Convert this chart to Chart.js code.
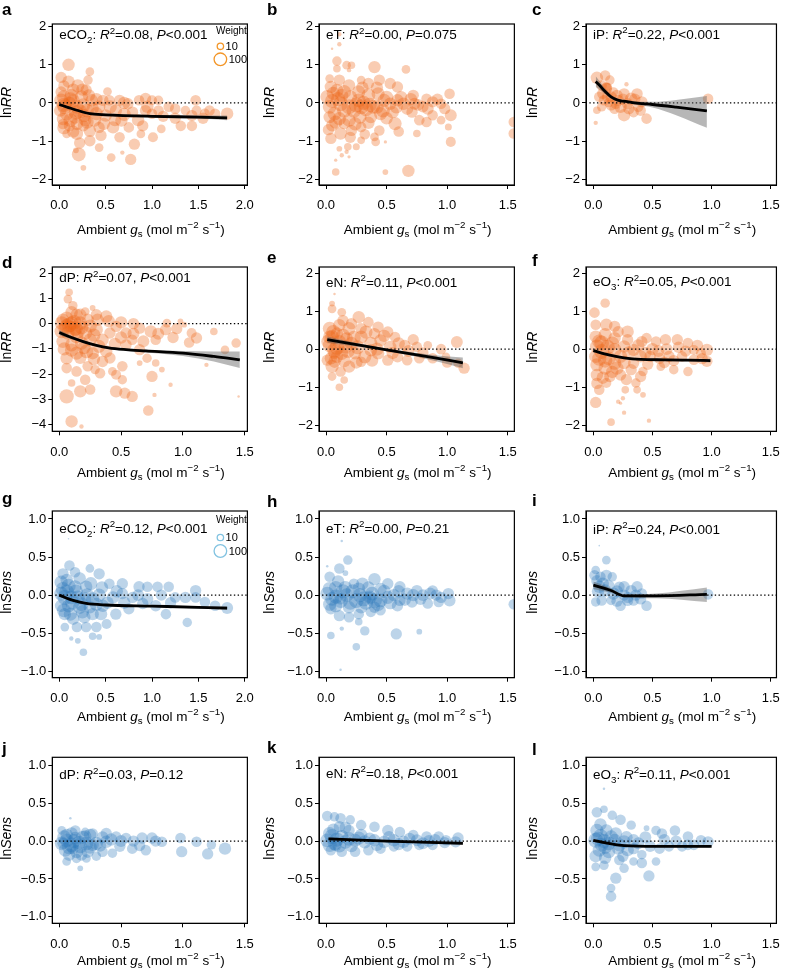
<!DOCTYPE html>
<html>
<head>
<meta charset="utf-8">
<script src="https://cdn.jsdelivr.net/npm/chart.js@4.4.1/dist/chart.umd.min.js"></script>
<style>
  html, body { margin: 0; padding: 0; background: #fff; }
  #fig { position: relative; width: 789px; height: 974px; overflow: hidden; }
  #fig canvas { position: absolute; }
</style>
</head>
<body>
<div id="fig"></div>
<script>
// ---- data: treatments and statistics ----
const treatments = ['eCO2', 'eT', 'iP', 'dP', 'eN', 'eO3'];
const r2RR = ['0.08', '0.00', '0.22', '0.07', '0.11', '0.05'];
const pRR = ['<0.001', '=0.075', '<0.001', '<0.001', '<0.001', '<0.001'];
const r2Sens = ['0.12', '0.00', '0.24', '0.03', '0.18', '0.11'];
const pSens = ['<0.001', '=0.21', '<0.001', '=0.12', '<0.001', '<0.001'];
const legendWeights = [10, 100];

// tick labels
const xTicks20 = [0, 0.5, 1.0, 1.5, 2.0];
const xTicks15 = [0, 0.5, 1.0, 1.5];
const yTicksRR = [-2, -1, 0, 1, 2];
const yTicksRRdP = [-4, -3, -2, -1, 0, 1, 2];
const yTicksSens = [-1, -0.5, 0, 0.5, 1];

// points: [gs, effect, weight]
const ptsA = [[0.10,1.0,60],[0.02,0.67,40],[0.33,0.82,15],[0.31,0.6,20],[0.1,0.56,60],[0.2,0.45,80],[0.25,0.35,60],[0.52,0.3,15],[0.54,0.07,30],[0.65,0.07,40],[0.74,-0.02,40],[0.86,0.07,30],[0.93,0.12,40],[1.0,0.07,25],[1.07,0.07,20],[1.18,-0.1,30],[1.25,-0.15,30],[1.36,-0.2,20],[1.47,0.07,30],[1.43,-0.33,40],[1.48,-0.2,25],[1.57,-0.28,25],[1.68,-0.28,30],[1.81,-0.28,60],[1.31,-0.6,30],[1.43,-0.6,30],[1.1,-0.68,15],[1.01,-0.9,25],[0.81,-1.08,40],[0.88,-0.81,15],[0.77,-1.48,40],[0.56,-1.43,15],[0.21,-1.35,100],[0.26,-1.7,5],[0.68,-1.3,3],[0.18,-1.24,5],[0.43,-1.17,15],[0.33,-0.99,40],[0.19,-0.81,60],[0.08,-0.81,15],[0.04,-0.55,30],[0.33,-0.73,60],[0.43,-0.64,40],[0.58,-0.64,60],[0.67,-0.46,60],[0.75,-0.64,30],[0.5,-0.33,60],[0.4,-0.28,80],
  [0.02,0.07,100],[0.06,-0.1,150],[0.11,-0.02,100],[0.19,-0.1,100],[0.26,-0.06,100],[0.08,-0.28,100],[0.17,-0.37,80],[0.27,-0.33,80],[0.01,-0.2,60],[0.04,-0.42,60],[0.13,0.2,80],[0.24,0.16,80],[0.35,0.07,60],[0.36,-0.15,60],[0.43,-0.1,60],[0.02,0.29,40],[0.29,0.34,40],[0.19,-0.55,60],[0.11,-0.6,40],[0.26,-0.6,40],[0.47,0.07,40],[0.61,-0.2,60],[0.79,-0.24,40],[0.93,-0.2,40],[1.0,-0.28,30],[1.07,-0.2,30],
  [0.05,0.15,100],[0.15,0.05,100],[0.3,-0.2,100],[0.38,-0.45,80],[0.05,-0.65,80],[0.15,-0.75,60],[0.3,-0.5,80],[0.22,-0.22,120],[0.12,-0.45,100],[0.55,-0.1,80],[0.7,-0.3,80],[0.85,-0.45,60],[0.95,-0.1,60],[0.6,-0.45,60],[0.48,-0.55,60],[0.4,0.1,60],[0.32,0.2,60],[0.15,0.35,60],[0.05,-0.05,120],[0.18,-0.25,120],[0.28,-0.45,60],[0.12,0.1,100],[0.7,0.0,60],[1.12,-0.35,40],[1.25,-0.4,40],[1.55,-0.4,40],[1.62,-0.2,30],[0.9,-0.6,40],[0.05,0.45,40],[0.45,-0.85,40],[0.22,-1.05,40],[0.65,-0.9,30]];
const ptsB = [[0.11,1.8,3],[0.11,1.54,3],[0.05,1.42,1.5],[0.09,1.1,20],[0.17,0.99,15],[0.21,0.99,10],[0.09,0.9,10],[0.4,0.94,60],[0.66,0.88,15],[0.19,0.86,3],[0.03,0.64,15],[0.11,0.6,40],[0.29,0.6,15],[0.44,0.6,40],[0.53,0.51,40],[0.59,0.42,40],[0.72,0.2,40],[0.83,0.11,30],[1.02,0.24,30],[0.95,-0.02,30],[1.03,-0.32,50],[0.88,-0.32,30],[0.95,-0.45,15],[1.01,-0.63,8],[0.83,-0.5,30],[0.77,-0.45,30],[0.71,-0.24,40],[0.57,-0.54,80],[0.75,-0.8,10],[0.44,-0.72,30],[0.4,-0.89,15],[0.41,-1.02,15],[0.29,-0.98,10],[0.25,-1.15,8],[0.18,-1.15,10],[0.11,-1.2,5],[0.13,-1.37,3],[0.17,-1.28,3],[0.04,-0.93,40],[0.12,-0.8,60],[0.21,-0.72,40],[0.05,-0.59,50],[0.15,-0.54,40],[0.29,-0.63,30],[0.08,-1.5,2],[0.19,-1.41,2],[0.08,-1.81,10],[0.49,-1.81,5],[0.68,-1.78,60],[1.03,-1.02,25],[1.55,-0.5,30],[1.55,-0.8,30],[0.49,-1.02,2],
  [0.01,0.16,100],[0.03,-0.1,100],[0.07,-0.28,100],[0.12,-0.02,150],[0.15,0.29,100],[0.19,-0.1,150],[0.23,-0.19,150],[0.27,0.07,100],[0.29,-0.1,150],[0.33,-0.15,150],[0.39,-0.1,100],[0.27,0.29,80],[0.35,0.2,100],[0.43,0.24,80],[0.48,0.07,80],[0.53,-0.02,60],[0.59,0.07,60],[0.64,-0.02,60],[0.55,-0.24,60],[0.45,-0.28,80],[0.37,-0.37,60],[0.28,-0.37,80],[0.19,-0.45,80],[0.11,-0.41,80],[0.03,-0.37,60],[0.09,0.33,80],[0.04,0.42,60],[0.19,0.46,60],[0.35,0.51,40],[0.73,-0.02,50],[0.8,-0.1,40],[0.88,0.03,40],
  [0.05,0.05,120],[0.1,0.1,120],[0.15,-0.2,120],[0.25,-0.05,150],[0.31,0.0,120],[0.36,-0.05,120],[0.42,-0.1,100],[0.47,-0.2,100],[0.5,0.15,80],[0.58,-0.1,80],[0.62,0.15,60],[0.67,-0.15,60],[0.2,0.15,100],[0.08,-0.5,80],[0.24,-0.55,80],[0.35,-0.52,60],[0.5,-0.4,60],[0.13,0.2,80],[0.3,0.4,60],[0.42,0.4,60],[0.06,0.25,80],[0.7,0.1,60],[0.76,-0.05,50],[0.84,-0.15,50],[0.92,0.1,40],[0.98,-0.15,40],[0.02,-0.7,40],[0.2,-0.9,40],[0.32,-0.82,30],[0.6,-0.75,30]];
const ptsC = [[0.03,0.66,60],[0.1,0.72,30],[0.07,0.46,30],[0.11,0.38,40],[0.11,0.42,20],[0.12,0.4,20],[0.14,0.6,20],[0.05,0.16,30],[0.09,0.07,30],[0.15,0.16,40],[0.17,0.29,20],[0.21,0.07,40],[0.26,0.24,40],[0.32,0.11,60],[0.37,0.24,40],[0.41,0.03,40],[0.23,-0.1,60],[0.18,-0.15,30],[0.07,-0.1,20],[0.03,-0.19,10],[0.26,-0.32,60],[0.34,-0.24,30],[0.45,-0.41,30],[0.02,-0.52,3],[0.28,0.49,3],[0.13,0.01,20],[0.97,0.11,30],[0.29,-0.02,40],[0.38,-0.1,30],[0.19,-0.02,30],
  [0.08,0.25,40],[0.12,0.15,40],[0.2,0.2,40],[0.3,-0.15,40],[0.4,-0.2,30],[0.15,-0.05,40],[0.25,0.1,40],[0.35,0.1,40]];
const ptsD = [[0.08,1.24,10],[0.07,0.97,15],[0.11,0.71,20],[0.17,0.35,60],[0.21,0.48,15],[0.27,0.62,5],[0.38,0.28,60],[0.31,0.15,60],[0.03,0.15,60],[0.46,-0.11,40],[0.65,-0.18,40],[0.74,-0.31,60],[0.86,-0.24,40],[0.87,0.02,15],[0.78,-0.64,30],[0.98,0.09,5],[1.07,-0.37,25],[1.11,-0.57,40],[1.01,-0.04,5],[1.25,-0.31,10],[1.43,-0.77,20],[1.34,-1.04,15],[1.19,-1.63,3],[1.45,-2.88,1.5],[0.54,-0.84,40],[0.65,-1.03,40],[0.71,-1.37,20],[0.78,-1.56,10],[0.83,-1.82,5],[0.75,-2.09,40],[0.9,-2.42,3],[0.77,-2.82,3],[0.72,-3.44,30],[0.59,-2.88,40],[0.53,-2.75,40],[0.46,-2.68,60],[0.51,-2.22,20],[0.46,-2.02,25],[0.51,-1.69,30],[0.41,-1.36,40],[0.43,-1.89,15],[0.65,-1.56,5],[0.29,-1.82,20],[0.21,-2.22,30],[0.17,-2.68,60],[0.25,-2.61,30],[0.06,-2.88,120],[0.1,-3.87,60],[0.18,-4.07,3],[0.1,-2.35,10],[0.06,-1.76,30],[0.14,-1.89,30],[0.23,-1.69,30],[0.33,-1.96,30],[0.35,-1.5,40],
  [0.02,0.02,100],[0.06,-0.11,150],[0.1,0.02,100],[0.13,-0.18,150],[0.17,0.02,100],[0.07,-0.37,100],[0.14,-0.5,100],[0.21,-0.37,100],[0.03,-0.7,80],[0.1,-0.84,80],[0.18,-0.77,80],[0.25,-0.64,80],[0.3,-0.24,80],[0.22,-1.1,100],[0.14,-1.17,80],[0.06,-1.37,60],[0.27,-1.17,60],[0.35,-0.64,60],[0.41,-0.37,40],[0.54,-0.37,40],[0.59,-0.64,30],[0.06,0.22,80],[0.14,0.35,60],[0.23,0.15,60],[0.09,-0.11,40],[0.13,-0.27,40],
  [0.02,-0.3,120],[0.05,-0.2,120],[0.08,-0.05,150],[0.12,0.05,150],[0.15,-0.3,120],[0.18,-0.15,100],[0.25,-0.1,80],[0.28,-0.45,80],[0.32,-0.9,80],[0.2,-0.95,80],[0.04,-1.0,80],[0.1,-1.05,80],[0.17,-1.35,60],[0.28,-1.4,60],[0.38,-1.1,60],[0.45,-0.8,60],[0.5,-0.55,60],[0.6,-0.4,50],[0.68,-0.7,50],[0.8,-0.4,50],[0.92,-0.55,40],[0.5,0.05,60],[0.4,0.1,60],[0.6,0.0,40],[0.95,-0.2,40],[1.05,-0.75,30],[0.3,0.35,40],[0.1,0.45,60]];
const ptsE = [[0.07,1.45,1.5],[0.05,1.2,5],[0.05,1.06,15],[0.13,0.97,15],[0.27,0.84,60],[0.35,0.71,30],[0.43,0.58,40],[0.51,0.45,40],[0.57,0.32,30],[0.65,0.1,40],[0.75,0.06,30],[0.84,0.1,15],[1.08,0.19,50],[1.14,-0.5,40],[1.09,-0.37,20],[0.99,-0.2,15],[0.88,-0.24,30],[0.77,-0.24,30],[0.67,-0.29,30],[0.59,-0.2,40],[0.51,-0.29,40],[0.43,-0.11,60],[0.19,-0.46,60],[0.12,-0.59,30],[0.05,-0.72,15],[0.11,-1.0,10],[0.15,-0.81,10],[0.29,-0.33,30],[0.04,-0.24,60],[0.07,-0.33,60],[0.07,-0.1,60],
  [0.03,0.54,100],[0.05,0.32,100],[0.11,0.19,100],[0.16,0.06,100],[0.03,0.1,100],[0.07,-0.03,150],[0.13,-0.11,80],[0.21,0.15,80],[0.29,0.32,80],[0.19,0.54,80],[0.11,0.63,60],[0.37,0.15,80],[0.45,0.23,60],[0.53,0.06,60],[0.37,-0.03,60],[0.24,-0.11,60],[0.03,0.32,80],[0.09,0.41,60],[0.17,0.28,60],[0.29,0.54,40],[0.4,0.41,40],[0.21,0.67,40],[0.01,-0.29,40],[0.09,-0.2,60],
  [0.02,0.2,120],[0.06,0.45,120],[0.09,0.05,150],[0.14,0.35,120],[0.18,-0.05,100],[0.23,0.3,100],[0.26,0.05,100],[0.33,0.45,80],[0.32,-0.2,80],[0.42,0.0,80],[0.48,0.35,60],[0.55,-0.1,60],[0.6,0.15,60],[0.68,-0.05,50],[0.72,0.25,40],[0.8,-0.1,40],[0.05,-0.45,80],[0.15,-0.3,80],[0.25,-0.35,60],[0.38,-0.3,60],[0.14,0.75,40],[0.95,0.0,30],[1.0,-0.35,30]];
const ptsF = [[0.1,1.21,20],[0.01,0.96,30],[0.02,0.64,30],[0.11,0.64,60],[0.18,0.6,40],[0.29,0.46,60],[0.21,0.46,40],[0.41,0.2,40],[0.45,0.29,30],[0.53,0.2,30],[0.61,0.25,40],[0.71,0.25,40],[0.8,0.16,30],[0.85,-0.02,25],[0.91,-0.11,25],[0.96,-0.32,40],[0.85,-0.28,30],[0.75,-0.19,30],[0.64,-0.19,40],[0.56,-0.24,40],[0.48,-0.19,40],[0.57,-0.46,15],[0.68,-0.54,20],[0.8,-0.59,20],[0.42,-0.59,20],[0.4,-0.72,40],[0.36,-0.89,20],[0.37,-1.07,10],[0.42,-1.2,5],[0.27,-1.07,10],[0.25,-1.29,3],[0.21,-1.38,3],[0.02,-1.4,40],[0.05,-1.07,30],[0.11,-0.89,25],[0.14,-0.72,40],[0.23,-0.68,40],[0.32,-0.54,40],[0.26,-1.67,3],[0.15,-1.92,10],[0.47,-1.88,3],[0.23,-1.42,2],
  [0.03,0.07,100],[0.07,0.16,150],[0.07,-0.06,150],[0.13,-0.24,100],[0.18,-0.02,100],[0.02,-0.19,80],[0.03,-0.41,80],[0.1,-0.5,80],[0.18,-0.37,80],[0.23,-0.19,80],[0.26,0.07,60],[0.34,-0.02,60],[0.4,-0.19,60],[0.03,-0.68,60],[0.02,0.33,60],[0.1,0.38,80],[0.18,0.29,60],[0.29,0.25,40],[0.34,-0.37,40],[0.96,-0.02,60],
  [0.05,0.2,120],[0.12,0.05,150],[0.05,-0.25,120],[0.1,-0.3,120],[0.16,0.15,100],[0.2,-0.5,80],[0.26,-0.35,80],[0.3,-0.1,80],[0.38,0.1,60],[0.44,-0.1,60],[0.5,0.0,60],[0.55,-0.05,50],[0.62,0.0,50],[0.68,-0.3,40],[0.72,0.05,40],[0.78,-0.05,40],[0.88,0.1,40],[0.92,-0.25,40],[0.08,-0.75,60],[0.16,-0.6,60],[0.03,-0.9,40],[0.28,-0.8,40],[0.46,-0.4,40],[0.6,-0.35,40]];
const ptsG = [[0.1,0.74,1],[0.11,0.39,30],[0.04,0.28,40],[0.17,0.3,30],[0.33,0.35,15],[0.43,0.28,40],[0.54,0.15,30],[0.68,0.15,40],[0.86,0.11,40],[0.95,0.11,30],[1.06,0.11,30],[1.18,0.11,30],[1.47,0.06,40],[1.47,-0.03,30],[1.36,-0.03,40],[1.25,-0.03,30],[1.57,-0.09,30],[1.68,-0.14,30],[1.81,-0.17,50],[1.38,-0.36,20],[1.15,-0.25,30],[1.04,-0.14,40],[0.9,-0.11,40],[0.75,-0.18,40],[0.61,-0.25,40],[0.51,-0.38,25],[0.4,-0.42,30],[0.29,-0.42,30],[0.19,-0.42,30],[0.06,-0.42,15],[0.36,-0.54,10],[0.43,-0.55,5],[0.2,-0.6,5],[0.13,-0.57,3],[0.26,-0.75,10],[0.06,-0.25,60],[0.15,-0.31,60],[0.27,-0.29,60],[0.36,-0.25,60],
  [0.02,0.02,100],[0.06,-0.03,150],[0.08,0.04,150],[0.13,-0.03,100],[0.2,-0.03,100],[0.27,-0.05,100],[0.36,-0.05,80],[0.43,0.0,80],[0.17,0.11,80],[0.29,0.11,60],[0.02,0.17,80],[0.1,-0.14,80],[0.22,-0.16,80],[0.33,-0.16,60],[0.47,-0.14,60],[0.58,-0.03,60],[0.68,0.02,40],[0.79,-0.03,40],[0.02,-0.14,60],
  [0.04,0.08,120],[0.1,0.12,120],[0.14,-0.1,120],[0.18,0.05,100],[0.24,-0.12,100],[0.3,0.0,100],[0.34,0.15,80],[0.4,-0.12,80],[0.46,0.1,60],[0.52,-0.1,60],[0.62,0.05,60],[0.7,-0.1,60],[0.85,0.0,50],[0.95,-0.05,50],[1.1,0.0,40],[1.2,-0.1,40],[0.05,-0.2,100],[0.12,-0.25,80],[0.25,-0.22,80],[0.45,-0.25,60],[0.08,0.2,60],[0.22,0.22,60]];
const ptsH = [[0.13,0.71,1.5],[0.01,0.38,1.5],[0.18,0.46,20],[0.11,0.35,30],[0.16,0.29,5],[0.03,0.24,30],[0.23,0.15,30],[0.4,0.21,60],[0.51,0.15,40],[0.61,0.11,40],[0.75,0.06,40],[0.88,0.06,30],[1.01,0.02,40],[1.02,-0.07,50],[0.93,-0.09,30],[0.84,-0.11,30],[0.71,-0.09,40],[0.61,-0.07,40],[1.55,-0.12,30],[0.04,-0.53,10],[0.13,-0.44,3],[0.32,-0.47,20],[0.58,-0.51,40],[0.77,-0.48,5],[0.25,-0.68,10],[0.12,-0.98,1.5],[0.27,-0.35,10],[0.04,-0.18,40],[0.11,-0.27,40],[0.19,-0.29,30],[0.27,-0.25,30],[0.37,-0.22,30],[0.45,-0.2,30],
  [0.01,0.02,100],[0.05,-0.05,100],[0.12,-0.07,150],[0.17,0.0,100],[0.25,-0.07,150],[0.31,-0.05,150],[0.36,-0.03,100],[0.4,-0.07,150],[0.45,-0.07,100],[0.51,-0.03,80],[0.56,0.0,60],[0.08,0.1,80],[0.16,0.1,80],[0.27,0.08,80],[0.35,0.1,60],[0.45,0.08,60],[0.67,0.02,60],[0.8,0.0,50],[0.91,0.0,40],[0.08,-0.14,80],[0.19,-0.16,60],[0.29,-0.16,60],[0.4,-0.16,40],[0.59,-0.14,40],[0.12,-0.05,40],[0.36,-0.03,40],
  [0.03,0.08,120],[0.08,-0.02,120],[0.14,0.05,120],[0.2,-0.1,120],[0.22,0.05,120],[0.28,0.0,120],[0.33,-0.1,120],[0.38,0.02,100],[0.43,-0.12,100],[0.48,0.05,80],[0.53,-0.1,80],[0.6,0.05,60],[0.65,-0.06,60],[0.72,0.0,60],[0.78,-0.05,50],[0.86,0.02,50],[0.95,-0.03,40],[0.03,-0.12,80],[0.1,0.18,60],[0.3,0.15,60]];
const ptsI = [[0.05,0.65,1],[0.11,0.46,15],[0.02,0.33,15],[0.01,0.26,30],[0.06,0.24,30],[0.11,0.26,40],[0.16,0.24,20],[0.22,0.11,30],[0.26,0.11,40],[0.37,0.11,40],[0.32,0.06,40],[0.41,0.02,30],[0.45,-0.14,30],[0.02,-0.09,20],[0.07,-0.07,30],[0.15,-0.07,20],[0.23,-0.14,30],[0.29,-0.07,40],[0.34,-0.07,30],[0.97,0.01,30],[0.05,0.11,60],[0.1,0.06,60],[0.17,0.02,60],[0.26,0.0,40],[0.29,-0.03,40],[0.03,0.19,40],
  [0.04,0.05,60],[0.08,0.15,60],[0.13,0.12,50],[0.2,0.05,50],[0.36,0.0,40],[0.4,-0.05,40],[0.2,-0.08,40]];
const ptsJ = [[0.09,0.3,1.5],[0.02,0.14,15],[0.13,0.14,30],[0.21,0.12,15],[0.27,0.1,30],[0.38,0.1,40],[0.46,0.06,30],[0.54,0.04,30],[0.67,0.04,40],[0.75,0.04,40],[0.83,-0.01,30],[0.98,0.04,30],[1.11,-0.01,30],[1.23,-0.05,20],[0.99,-0.14,40],[1.2,-0.17,40],[1.34,-0.1,60],[0.7,-0.12,30],[0.59,-0.1,30],[0.49,-0.07,40],[0.43,-0.16,20],[0.35,-0.14,30],[0.3,-0.2,20],[0.22,-0.23,15],[0.14,-0.23,20],[0.06,-0.27,15],[0.17,-0.36,5],
  [0.02,-0.03,100],[0.06,0.01,100],[0.1,-0.05,150],[0.13,0.04,60],[0.17,-0.07,100],[0.22,-0.03,100],[0.3,-0.03,80],[0.27,-0.05,60],[0.38,-0.01,60],[0.05,-0.12,80],[0.14,-0.14,80],[0.23,-0.14,60],[0.06,0.08,60],[0.21,0.06,60],[0.03,-0.03,40],[0.11,-0.1,40],
  [0.04,0.05,100],[0.08,-0.08,120],[0.12,0.0,120],[0.16,-0.02,100],[0.19,0.05,80],[0.25,-0.08,80],[0.33,-0.06,60],[0.42,0.02,60],[0.5,0.0,50],[0.6,0.0,40],[0.65,-0.06,40],[0.78,0.0,40],[0.1,0.1,60],[0.25,0.08,60],[0.35,0.05,50],[0.08,-0.18,60],[0.18,-0.18,50]];
const ptsK = [[0.01,0.33,30],[0.07,0.32,20],[0.12,0.3,30],[0.2,0.28,20],[0.29,0.21,30],[0.4,0.19,30],[0.51,0.14,40],[0.61,0.12,30],[0.72,0.08,30],[0.83,0.06,30],[0.93,0.06,30],[1.09,0.04,40],[0.99,0.01,30],[0.88,-0.05,30],[0.77,-0.05,30],[0.67,-0.07,30],[0.56,-0.07,30],[0.45,-0.1,30],[0.35,-0.12,30],[0.24,-0.14,30],[0.13,-0.14,30],[0.04,-0.12,30],[0.19,0.14,40],[0.11,0.19,40],
  [0.01,0.01,100],[0.05,0.06,150],[0.07,-0.03,100],[0.16,-0.01,100],[0.13,0.06,80],[0.24,0.01,80],[0.32,-0.01,80],[0.4,0.01,60],[0.48,-0.01,60],[0.56,0.01,60],[0.64,-0.01,60],[0.75,0.01,50],[0.85,0.0,50],[1.07,-0.01,40],[0.03,0.1,80],[0.08,-0.05,60],[0.29,0.08,60],
  [0.03,-0.05,120],[0.09,0.02,120],[0.11,-0.06,100],[0.19,0.03,100],[0.21,-0.06,80],[0.27,0.04,80],[0.36,0.03,60],[0.42,-0.05,60],[0.52,0.05,60],[0.6,-0.04,60],[0.69,0.03,50],[0.8,-0.03,50],[0.9,0.02,40],[0.98,-0.02,40],[0.06,0.15,60],[0.16,0.18,50]];
const ptsL = [[0.09,0.69,1.5],[0.03,0.38,30],[0.09,0.42,10],[0.16,0.34,20],[0.23,0.28,30],[0.32,0.21,20],[0.45,0.17,5],[0.53,0.14,20],[0.69,0.14,30],[0.58,0.1,30],[0.8,0.06,30],[0.91,0.01,30],[0.97,-0.01,40],[0.85,-0.05,30],[0.75,-0.07,30],[0.64,-0.07,30],[0.56,-0.1,30],[0.48,-0.07,40],[0.41,-0.18,20],[0.41,-0.29,30],[0.53,-0.27,15],[0.34,-0.27,15],[0.47,-0.46,40],[0.26,-0.36,20],[0.19,-0.49,40],[0.15,-0.62,15],[0.15,-0.73,30],[0.02,-0.34,15],[0.09,-0.32,20],[0.22,-0.25,30],
  [0.02,0.01,150],[0.06,0.06,150],[0.07,-0.05,100],[0.13,-0.03,100],[0.18,0.01,80],[0.26,-0.01,80],[0.34,0.01,60],[0.05,-0.12,80],[0.13,-0.14,80],[0.21,-0.1,60],[0.03,0.14,80],[0.11,0.14,60],[0.19,0.1,60],[0.29,-0.12,60],[0.34,-0.1,40],
  [0.04,0.03,120],[0.09,0.0,120],[0.1,-0.08,100],[0.15,0.05,100],[0.22,-0.05,80],[0.28,0.05,60],[0.38,-0.03,50],[0.44,0.05,50],[0.6,0.02,40],[0.7,0.0,40],[0.8,-0.05,30],[0.02,-0.2,60],[0.1,-0.22,60],[0.25,-0.2,40],[0.06,0.22,60]];

// fitted curves and confidence limits: [gs, value]
const fitA = [[0,-0.04],[0.1,-0.12],[0.19,-0.19],[0.33,-0.28],[0.5,-0.31],[1.0,-0.35],[1.5,-0.37],[1.81,-0.39]];
const hiA = [[0,0.0],[0.1,-0.09],[0.19,-0.16],[0.33,-0.25],[0.5,-0.29],[1.0,-0.32],[1.5,-0.33],[1.81,-0.33]];
const loA = [[0,-0.08],[0.1,-0.15],[0.19,-0.22],[0.33,-0.31],[0.5,-0.34],[1.0,-0.38],[1.5,-0.41],[1.81,-0.45]];
const fitC = [[0.02,0.56],[0.05,0.47],[0.1,0.3],[0.15,0.16],[0.2,0.08],[0.25,0.05],[0.35,0.0],[0.5,-0.04],[0.7,-0.11],[0.96,-0.21]];
const hiC = [[0.02,0.7],[0.05,0.58],[0.1,0.37],[0.15,0.21],[0.2,0.12],[0.25,0.08],[0.35,0.04],[0.5,0.03],[0.7,0.08],[0.96,0.18]];
const loC = [[0.02,0.42],[0.05,0.36],[0.1,0.23],[0.15,0.11],[0.2,0.04],[0.25,0.01],[0.35,-0.04],[0.5,-0.12],[0.7,-0.32],[0.96,-0.65]];
const fitD = [[0,-0.35],[0.1,-0.55],[0.2,-0.72],[0.3,-0.86],[0.4,-0.96],[0.54,-1.03],[0.7,-1.08],[1.0,-1.17],[1.25,-1.3],[1.46,-1.43]];
const hiD = [[0,-0.25],[0.1,-0.48],[0.2,-0.67],[0.3,-0.82],[0.4,-0.92],[0.54,-0.99],[0.7,-1.03],[1.0,-1.08],[1.25,-1.1],[1.46,-1.1]];
const loD = [[0,-0.45],[0.1,-0.62],[0.2,-0.77],[0.3,-0.9],[0.4,-1.0],[0.54,-1.07],[0.7,-1.14],[1.0,-1.28],[1.25,-1.5],[1.46,-1.76]];
const fitE = [[0.01,0.25],[0.3,0.09],[0.6,-0.07],[0.9,-0.23],[1.13,-0.36]];
const hiE = [[0.01,0.33],[0.3,0.13],[0.6,-0.03],[0.9,-0.16],[1.13,-0.22]];
const loE = [[0.01,0.17],[0.3,0.05],[0.6,-0.11],[0.9,-0.31],[1.13,-0.5]];
const fitF = [[0,-0.04],[0.13,-0.15],[0.26,-0.23],[0.4,-0.27],[0.6,-0.28],[0.8,-0.29],[0.99,-0.3]];
const hiF = [[0,0.0],[0.13,-0.12],[0.26,-0.2],[0.4,-0.245],[0.6,-0.255],[0.8,-0.26],[0.99,-0.25]];
const loF = [[0,-0.08],[0.13,-0.18],[0.26,-0.26],[0.4,-0.295],[0.6,-0.305],[0.8,-0.32],[0.99,-0.35]];
const fitG = [[0,0],[0.15,-0.07],[0.29,-0.11],[0.5,-0.13],[1.0,-0.145],[1.5,-0.16],[1.81,-0.17]];
const hiG = [[0,0.02],[0.15,-0.055],[0.29,-0.1],[0.5,-0.12],[1.0,-0.135],[1.5,-0.145],[1.81,-0.145]];
const loG = [[0,-0.02],[0.15,-0.085],[0.29,-0.12],[0.5,-0.14],[1.0,-0.155],[1.5,-0.175],[1.81,-0.195]];
const fitI = [[0,0.13],[0.15,0.06],[0.26,-0.01],[0.53,-0.01],[0.96,0.01]];
const hiI = [[0,0.18],[0.15,0.09],[0.26,0.01],[0.53,0.02],[0.96,0.1]];
const loI = [[0,0.08],[0.15,0.03],[0.26,-0.03],[0.53,-0.04],[0.96,-0.09]];
const fitK = [[0.02,0.03],[0.5,0.0],[1.13,-0.03]];
const hiK = [[0.02,0.05],[0.5,0.01],[1.13,-0.01]];
const loK = [[0.02,0.01],[0.5,-0.01],[1.13,-0.05]];
const fitL = [[0,0.01],[0.13,-0.03],[0.26,-0.06],[0.53,-0.07],[1.0,-0.07]];
const hiL = [[0,0.03],[0.13,-0.015],[0.26,-0.05],[0.53,-0.06],[1.0,-0.055]];
const loL = [[0,-0.01],[0.13,-0.045],[0.26,-0.07],[0.53,-0.08],[1.0,-0.085]];

// ---- style and layout ----
const FONT = "'Liberation Sans', Arial, Helvetica, sans-serif";
const W = 263, H = 243;
const rowTop = [0, 243, 487, 731];
const boxTop = [24, 24, 24, 26.3];
const boxBottom = [185, 188.3, 190.7, 192.3];
const colLeft = [52.3, 56, 60];
const colRight = [249.3, 257.7, 259.3];
const fills = ['rgba(236,100,20,0.33)', 'rgba(40,115,185,0.31)'];
const legendStroke = ['rgb(243,150,40)', 'rgb(130,195,225)'];

// x range per column so that ticks sit where the figure has them
const xRange20 = [-0.075, 2.028];
const xRangeCol = [[-0.056, 1.521], [-0.058, 1.555], [-0.062, 1.548]];

const panels = [
  { id: 'a', row: 0, col: 0, pts: ptsA, fit: fitA, hi: hiA, lo: loA, xr: xRange20, xt: xTicks20, yr: [-2.15, 2.07], yt: yTicksRR, k: 0, letterY: 15, textDy: 15.3, legend: true },
  { id: 'b', row: 0, col: 1, pts: ptsB, xr: xRangeCol[1], xt: xTicks15, yr: [-2.15, 2.07], yt: yTicksRR, k: 1, letterY: 15, textDy: 15.3 },
  { id: 'c', row: 0, col: 2, pts: ptsC, fit: fitC, hi: hiC, lo: loC, xr: xRangeCol[2], xt: xTicks15, yr: [-2.15, 2.07], yt: yTicksRR, k: 2, letterY: 15, textDy: 15 },
  { id: 'd', row: 1, col: 0, pts: ptsD, fit: fitD, hi: hiD, lo: loD, xr: xRangeCol[0], xt: xTicks15, yr: [-4.26, 2.24], yt: yTicksRRdP, k: 3, letterY: 25, textDy: 15.3 },
  { id: 'e', row: 1, col: 1, pts: ptsE, fit: fitE, hi: hiE, lo: loE, xr: xRangeCol[1], xt: xTicks15, yr: [-2.16, 2.16], yt: yTicksRR, k: 4, letterY: 20, textDy: 20 },
  { id: 'f', row: 1, col: 2, pts: ptsF, fit: fitF, hi: hiF, lo: loF, xr: xRangeCol[2], xt: xTicks15, yr: [-2.16, 2.16], yt: yTicksRR, k: 5, letterY: 23, textDy: 19.3 },
  { id: 'g', row: 2, col: 0, pts: ptsG, fit: fitG, hi: hiG, lo: loG, xr: xRange20, xt: xTicks20, yr: [-1.085, 1.105], yt: yTicksSens, k: 0, letterY: 17, textDy: 22, legend: true },
  { id: 'h', row: 2, col: 1, pts: ptsH, xr: xRangeCol[1], xt: xTicks15, yr: [-1.085, 1.105], yt: yTicksSens, k: 1, letterY: 20, textDy: 21.7 },
  { id: 'i', row: 2, col: 2, pts: ptsI, fit: fitI, hi: hiI, lo: loI, xr: xRangeCol[2], xt: xTicks15, yr: [-1.085, 1.105], yt: yTicksSens, k: 2, letterY: 19, textDy: 22.7 },
  { id: 'j', row: 3, col: 0, pts: ptsJ, xr: xRangeCol[0], xt: xTicks15, yr: [-1.085, 1.105], yt: yTicksSens, k: 3, letterY: 23, textDy: 22 },
  { id: 'k', row: 3, col: 1, pts: ptsK, fit: fitK, hi: hiK, lo: loK, xr: xRangeCol[1], xt: xTicks15, yr: [-1.085, 1.105], yt: yTicksSens, k: 4, letterY: 22, textDy: 20.7 },
  { id: 'l', row: 3, col: 2, pts: ptsL, fit: fitL, hi: hiL, lo: loL, xr: xRangeCol[2], xt: xTicks15, yr: [-1.085, 1.105], yt: yTicksSens, k: 5, letterY: 24, textDy: 21.7 }
];

// bubble radius from meta-analysis weight
function weightToRadius(w) {
  return Math.max(0.8, 0.7 + 3.1 * Math.log10(w));
}

function fmtTick(v, digits) {
  const s = Math.abs(v).toFixed(digits);
  return v < 0 ? '\u2212' + s : s;
}

// treatment name with subscript digit (eCO2, eO3)
function treatmentSegs(name) {
  const m = name.match(/^(.*?)(\d)$/);
  return m ? [[m[1], 'n'], [m[2], 'sub']] : [[name, 'n']];
}

// draw a run of text pieces: 'n' normal, 'i' italic, 'sub', 'sup'
function drawRich(ctx, segs, x, y, size, align) {
  const parts = segs.map(([t, kind]) => {
    const small = kind === 'sub' || kind === 'sup';
    const font = (kind === 'i' ? 'italic ' : '') + (small ? size * 0.72 : size) + 'px ' + FONT;
    ctx.font = font;
    const dy = kind === 'sub' ? size * 0.28 : kind === 'sup' ? -size * 0.42 : 0;
    return { t, font, dy, w: ctx.measureText(t).width };
  });
  const total = parts.reduce((s, p) => s + p.w, 0);
  let cx = align === 'center' ? x - total / 2 : x;
  ctx.textAlign = 'left';
  ctx.textBaseline = 'alphabetic';
  ctx.fillStyle = '#000';
  parts.forEach(p => {
    ctx.font = p.font;
    ctx.fillText(p.t, cx, y + p.dy);
    cx += p.w;
  });
}

// zero line, frame, labels and weight legend
function decorPlugin(p) {
  const sens = p.row >= 2;
  return {
    id: 'decor_' + p.id,
    afterDatasetDraw(chart, args) {
      if (args.index !== 0) return;
      const { ctx, chartArea: a, scales } = chart;
      const y0 = scales.y.getPixelForValue(0);
      ctx.save();
      ctx.beginPath();
      ctx.rect(a.left, a.top, a.right - a.left, a.bottom - a.top);
      ctx.clip();
      ctx.strokeStyle = '#000';
      ctx.lineWidth = 1.3;
      ctx.setLineDash([1.4, 2.4]);
      ctx.beginPath();
      ctx.moveTo(scales.x.getPixelForValue(0) - 4, y0);
      ctx.lineTo(a.right, y0);
      ctx.stroke();
      ctx.restore();
    },
    afterDraw(chart) {
      const { ctx, chartArea: a } = chart;
      ctx.save();
      // frame
      ctx.strokeStyle = '#000';
      ctx.lineWidth = 1.2;
      ctx.strokeRect(a.left, a.top, a.right - a.left, a.bottom - a.top);

      // panel letter
      ctx.font = 'bold 17px ' + FONT;
      ctx.fillStyle = '#000';
      ctx.textAlign = 'left';
      ctx.textBaseline = 'alphabetic';
      ctx.fillText(p.id, 2 + p.col * 2, p.letterY);

      // statistics annotation
      const r2 = sens ? r2Sens[p.k] : r2RR[p.k];
      const pv = sens ? pSens[p.k] : pRR[p.k];
      const segs = treatmentSegs(treatments[p.k]).concat([
        [': ', 'n'], ['R', 'i'], ['2', 'sup'], ['=' + r2 + ', ', 'n'], ['P', 'i'], [pv, 'n']
      ]);
      drawRich(ctx, segs, a.left + 7, a.top + p.textDy, 13.5, 'left');

      // x axis title
      drawRich(ctx, [['Ambient ', 'n'], ['g', 'i'], ['s', 'sub'], [' (mol m', 'n'], ['\u22122', 'sup'], [' s', 'n'], ['\u22121', 'sup'], [')', 'n']],
        (a.left + a.right) / 2 + 1, 233.5, 13.5, 'center');

      // y axis title
      ctx.save();
      ctx.translate(11, (a.top + a.bottom) / 2 - 2);
      ctx.rotate(-Math.PI / 2);
      drawRich(ctx, [['ln', 'n'], [sens ? 'Sens' : 'RR', 'i']], 0, 0, 14, 'center');
      ctx.restore();

      // weight legend
      if (p.legend) {
        const c = sens ? 1 : 0;
        const lx = a.right - 27;
        ctx.font = '10px ' + FONT;
        ctx.textAlign = 'center';
        ctx.fillText('Weight', a.right - 16, a.top + (sens ? 12 : 9.5));
        ctx.strokeStyle = legendStroke[c];
        ctx.lineWidth = 1.3;
        legendWeights.forEach((w, i) => {
          const ly = a.top + (sens ? 26.5 + i * 13.5 : 22.3 + i * 13);
          const r = weightToRadius(w) - 0.6;
          ctx.beginPath();
          ctx.arc(lx, ly, r, 0, Math.PI * 2);
          ctx.stroke();
          ctx.font = '11px ' + FONT;
          ctx.textAlign = 'left';
          ctx.textBaseline = 'middle';
          ctx.fillText(String(w), lx + r + 2, ly + 0.5);
        });
      }
      ctx.restore();
    }
  };
}

function toXY(arr) {
  return arr.map(([x, y]) => ({ x, y }));
}

function createPanel(p) {
  const fig = document.getElementById('fig');
  const canvas = document.createElement('canvas');
  canvas.width = W;
  canvas.height = H;
  canvas.style.left = (p.col * W) + 'px';
  canvas.style.top = rowTop[p.row] + 'px';
  canvas.style.width = W + 'px';
  canvas.style.height = H + 'px';
  fig.appendChild(canvas);

  const sens = p.row >= 2;
  const bl = colLeft[p.col], br = colRight[p.col];
  const bt = boxTop[p.row], bb = boxBottom[p.row];

  const datasets = [{
    label: 'points',
    data: p.pts.map(([x, y, w]) => ({ x, y, w })),
    backgroundColor: fills[sens ? 1 : 0],
    borderWidth: 0,
    pointRadius: ctx => weightToRadius(ctx.raw.w),
    order: 10
  }];

  if (p.fit) {
    datasets.push({
      type: 'line', label: 'upper', data: toXY(p.hi),
      borderWidth: 0, pointRadius: 0, fill: '+1',
      backgroundColor: 'rgba(95,95,95,0.45)',
      cubicInterpolationMode: 'monotone', order: 5
    });
    datasets.push({
      type: 'line', label: 'lower', data: toXY(p.lo),
      borderWidth: 0, pointRadius: 0, fill: false,
      cubicInterpolationMode: 'monotone', order: 5
    });
    datasets.push({
      type: 'line', label: 'fit', data: toXY(p.fit),
      borderColor: '#000', borderWidth: 2.8, pointRadius: 0, fill: false,
      cubicInterpolationMode: 'monotone', order: 0
    });
  }

  return new Chart(canvas, {
    type: 'scatter',
    data: { datasets },
    options: {
      responsive: false,
      animation: false,
      devicePixelRatio: 1,
      events: [],
      layout: { padding: { left: 0, top: bt, right: W - br, bottom: 0 } },
      plugins: { legend: { display: false }, tooltip: { enabled: false } },
      scales: {
        x: {
          type: 'linear', min: p.xr[0], max: p.xr[1],
          afterBuildTicks: s => { s.ticks = p.xt.map(v => ({ value: v })); },
          afterFit: s => { s.height = H - bb; },
          ticks: { callback: v => fmtTick(v, 1), color: '#000', font: { family: FONT, size: 13 }, padding: 9, maxRotation: 0, autoSkip: false },
          grid: { drawOnChartArea: false, drawTicks: true, tickLength: 4, color: '#000', lineWidth: 1 },
          border: { display: true, color: '#000', width: 1 }
        },
        y: {
          type: 'linear', min: p.yr[0], max: p.yr[1],
          afterBuildTicks: s => { s.ticks = p.yt.map(v => ({ value: v })); },
          afterFit: s => { s.width = bl; },
          ticks: { callback: v => fmtTick(v, sens ? 1 : 0), color: '#000', font: { family: FONT, size: 13 }, padding: 2, autoSkip: false },
          grid: { drawOnChartArea: false, drawTicks: true, tickLength: 4, color: '#000', lineWidth: 1 },
          border: { display: true, color: '#000', width: 1 }
        }
      }
    },
    plugins: [decorPlugin(p)]
  });
}

panels.forEach(createPanel);
</script>
</body>
</html>
